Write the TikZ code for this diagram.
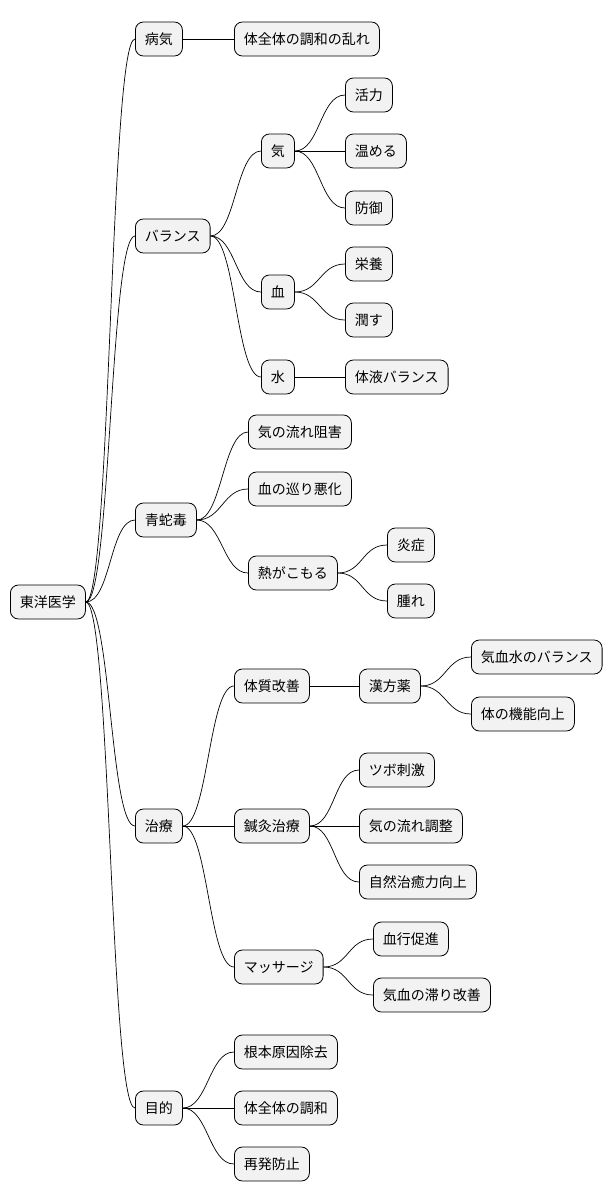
\documentclass[tikz,border=0pt]{standalone}
\usepackage{fontspec}
\setmainfont{Noto Sans CJK JP}
\begin{document}
\begin{tikzpicture}[x=1pt,y=-1pt,
    topic/.style={draw, fill=gray!10, rounded corners=8pt, minimum height=34pt,
      inner xsep=9.5pt, anchor=west, font=\fontsize{14}{16}\selectfont, line width=0.8pt},
    link/.style={line width=0.7pt}]
  \useasboundingbox (0,0) rectangle (614,1203);

  % root
  \node[topic] (root) at (10,602) {東洋医学};

  % first level
  \node[topic] (byoki) at (135,39) {病気};
  \node[topic] (balance) at (135,236) {バランス};
  \node[topic] (doku) at (135,520) {青蛇毒};
  \node[topic] (chiryo) at (135,826) {治療};
  \node[topic] (mokuteki) at (135,1108) {目的};

  % disease
  \node[topic] (midare) at (234,39) {体全体の調和の乱れ};

  % balance
  \node[topic] (ki) at (261,151) {気};
  \node[topic] (ketsu) at (261,292) {血};
  \node[topic] (sui) at (261,377) {水};
  \node[topic] (katsu) at (345,95) {活力};
  \node[topic] (atata) at (345,151) {温める};
  \node[topic] (bogyo) at (345,208) {防御};
  \node[topic] (eiyo) at (345,264) {栄養};
  \node[topic] (uruo) at (345,320) {潤す};
  \node[topic] (taieki) at (345,377) {体液バランス};

  % poison
  \node[topic] (sogai) at (248,432) {気の流れ阻害};
  \node[topic] (akka) at (248,489) {血の巡り悪化};
  \node[topic] (netsu) at (248,573) {熱がこもる};
  \node[topic] (ensho) at (387,545) {炎症};
  \node[topic] (hare) at (387,601) {腫れ};

  % treatment
  \node[topic] (taishitsu) at (234,686) {体質改善};
  \node[topic] (kanpo) at (359,686) {漢方薬};
  \node[topic] (kiketsusui) at (471,657) {気血水のバランス};
  \node[topic] (kino) at (471,714) {体の機能向上};
  \node[topic] (shinkyu) at (234,826) {鍼灸治療};
  \node[topic] (tsubo) at (359,770) {ツボ刺激};
  \node[topic] (chosei) at (359,826) {気の流れ調整};
  \node[topic] (chiyu) at (359,882) {自然治癒力向上};
  \node[topic] (massage) at (234,967) {マッサージ};
  \node[topic] (kekko) at (373,939) {血行促進};
  \node[topic] (todo) at (373,995) {気血の滞り改善};

  % purpose
  \node[topic] (konpon) at (234,1052) {根本原因除去};
  \node[topic] (chowa) at (234,1108) {体全体の調和};
  \node[topic] (saihatsu) at (234,1164) {再発防止};

  \foreach \p/\c in {root/byoki, root/balance, root/doku, root/chiryo, root/mokuteki,
      byoki/midare, balance/ki, balance/ketsu, balance/sui,
      ki/katsu, ki/atata, ki/bogyo, ketsu/eiyo, ketsu/uruo, sui/taieki,
      doku/sogai, doku/akka, doku/netsu, netsu/ensho, netsu/hare,
      chiryo/taishitsu, chiryo/shinkyu, chiryo/massage,
      taishitsu/kanpo, kanpo/kiketsusui, kanpo/kino,
      shinkyu/tsubo, shinkyu/chosei, shinkyu/chiyu,
      massage/kekko, massage/todo,
      mokuteki/konpon, mokuteki/chowa, mokuteki/saihatsu}
    \draw[link] (\p.east) .. controls +(25,0) and +(-25,0) .. (\c.west);
\end{tikzpicture}
\end{document}
